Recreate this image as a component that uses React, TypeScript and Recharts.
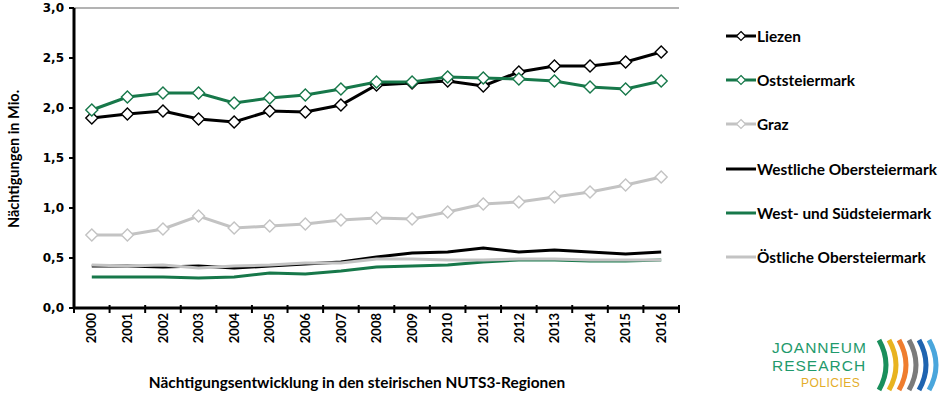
import { LineChart, Line, XAxis, YAxis, ReferenceLine, Legend } from "recharts";

const years = ["2000", "2001", "2002", "2003", "2004", "2005", "2006", "2007", "2008", "2009", "2010", "2011", "2012", "2013", "2014", "2015", "2016"];

const liezen = [1.9, 1.94, 1.97, 1.89, 1.86, 1.97, 1.96, 2.03, 2.23, 2.25, 2.27, 2.22, 2.36, 2.42, 2.42, 2.46, 2.56];
const oststeiermark = [1.98, 2.11, 2.15, 2.15, 2.05, 2.1, 2.13, 2.19, 2.26, 2.26, 2.31, 2.3, 2.29, 2.27, 2.21, 2.19, 2.27];
const graz = [0.73, 0.73, 0.79, 0.92, 0.8, 0.82, 0.84, 0.88, 0.9, 0.89, 0.96, 1.04, 1.06, 1.11, 1.16, 1.23, 1.31];
const westlicheOber = [0.42, 0.42, 0.41, 0.42, 0.4, 0.42, 0.44, 0.46, 0.51, 0.55, 0.56, 0.6, 0.56, 0.58, 0.56, 0.54, 0.56];
const westSued = [0.31, 0.31, 0.31, 0.3, 0.31, 0.35, 0.34, 0.37, 0.41, 0.42, 0.43, 0.46, 0.48, 0.48, 0.47, 0.47, 0.48];
const oestlicheOber = [0.43, 0.42, 0.43, 0.4, 0.42, 0.43, 0.45, 0.45, 0.49, 0.49, 0.48, 0.48, 0.49, 0.49, 0.48, 0.48, 0.48];

const yTicks = [0, 0.5, 1, 1.5, 2, 2.5, 3];

const BLACK = "#000000";
const GREEN = "#17784a";
const GRAY = "#c3c3c3";

const series = [
  { key: "liezen", name: "Liezen", values: liezen, color: BLACK, marker: true },
  { key: "ost", name: "Oststeiermark", values: oststeiermark, color: GREEN, marker: true },
  { key: "graz", name: "Graz", values: graz, color: GRAY, marker: true },
  { key: "west", name: "Westliche Obersteiermark", values: westlicheOber, color: BLACK, marker: false },
  { key: "wsued", name: "West- und Südsteiermark", values: westSued, color: GREEN, marker: false },
  { key: "oest", name: "Östliche Obersteiermark", values: oestlicheOber, color: GRAY, marker: false },
];

const data = years.map((y, i) => {
  const row: Record<string, string | number> = { year: y };
  series.forEach((s) => (row[s.key] = s.values[i]));
  return row;
});

const LABEL_FONT = "Lato, 'Noto Sans', sans-serif";
const HALF_BAND = 17.8;

function Diamond(props: any) {
  const { cx, cy, stroke } = props;
  if (cx == null || cy == null) return null;
  const r = 6;
  return (
    <path
      d={`M${cx},${cy - r} L${cx + r},${cy} L${cx},${cy + r} L${cx - r},${cy} Z`}
      fill="#fff"
      stroke={stroke}
      strokeWidth={1.4}
    />
  );
}

function YearTick(props: any) {
  const { x, y, payload, index } = props;
  return (
    <g>
      <line x1={x - HALF_BAND} x2={x - HALF_BAND} y1={y - 3} y2={y + 5} stroke="#000" strokeWidth={2} />
      {index === years.length - 1 && (
        <line x1={x + HALF_BAND} x2={x + HALF_BAND} y1={y - 3} y2={y + 5} stroke="#000" strokeWidth={2} />
      )}
      <text
        transform={`translate(${x},${y}) rotate(-90)`}
        x={-5}
        dy="0.36em"
        textAnchor="end"
        fontFamily={LABEL_FONT}
        fontWeight={700}
        fontSize={13}
        fill="#000"
      >
        {payload.value}
      </text>
    </g>
  );
}

function LegendContent() {
  return (
    <div style={{ fontFamily: LABEL_FONT, fontWeight: 700, fontSize: 15.4, color: "#000" }}>
      {series.map((s) => (
        <div key={s.key} style={{ display: "flex", alignItems: "center", height: 44.2 }}>
          <svg width={32} height={12}>
            <line x1={1} x2={31} y1={6} y2={6} stroke={s.color} strokeWidth={3} />
            {s.marker && <path d="M16,1.5 L20.5,6 L16,10.5 L11.5,6 Z" fill="#fff" stroke={s.color} strokeWidth={1.2} />}
          </svg>
          <span>{s.name}</span>
        </div>
      ))}
    </div>
  );
}

function Logo() {
  const colors = ["#1a8f5c", "#e8b321", "#ef7d2e", "#7b7b7b", "#1f64b0", "#4aa6dc"];
  const font = "'Liberation Sans', Arial, sans-serif";
  return (
    <div style={{ position: "absolute", left: 772, top: 339 }}>
      <div style={{ fontFamily: font, color: "#1f9a6c", fontSize: 15.5, lineHeight: "18px", letterSpacing: 1 }}>
        <div>JOANNEUM</div>
        <div>RESEARCH</div>
      </div>
      <div style={{ fontFamily: font, color: "#e3ad2a", fontSize: 12, lineHeight: "14px", marginLeft: 29, marginTop: 1, letterSpacing: 0.5 }}>
        POLICIES
      </div>
      <svg width={66} height={58} style={{ position: "absolute", left: 103, top: -3 }}>
        {colors.map((c, i) => (
          <path
            key={c}
            d={`M${4 + i * 10},4 Q${18 + i * 10},29 ${4 + i * 10},54`}
            fill="none"
            stroke={c}
            strokeWidth={5}
          />
        ))}
      </svg>
    </div>
  );
}

export default function App() {
  return (
    <div style={{ position: "absolute", left: 0, top: 0, width: 945, height: 399, background: "#fff" }}>
      <LineChart width={945} height={399} data={data} margin={{ top: 8, right: 46, bottom: 61, left: 0 }}>
        <XAxis
          dataKey="year"
          height={30}
          padding={{ left: HALF_BAND, right: HALF_BAND }}
          tick={<YearTick />}
          tickLine={false}
          tickSize={0}
          tickMargin={0}
          interval={0}
          stroke="#000"
          strokeWidth={3}
          label={{
            content: () => (
              <text x={357} y={388} textAnchor="middle" fontFamily={LABEL_FONT} fontWeight={700} fontSize={15.4} fill="#000">
                Nächtigungsentwicklung in den steirischen NUTS3-Regionen
              </text>
            ),
          }}
        />
        <YAxis
          width={74}
          domain={[0, 3]}
          ticks={yTicks}
          tickFormatter={(v: number) => v.toFixed(1).replace(".", ",")}
          tick={{ fill: "#000", fontFamily: "'DejaVu Sans', Verdana, sans-serif", fontWeight: 700, fontSize: 12 }}
          tickSize={5}
          tickMargin={5}
          stroke="#000"
          strokeWidth={3}
          tickLine={{ stroke: "#000", strokeWidth: 2 }}
          label={{
            content: () => (
              <text
                transform="translate(14,159) rotate(-90)"
                textAnchor="middle"
                dy="0.35em"
                fontFamily={LABEL_FONT}
                fontWeight={700}
                fontSize={14.5}
                fill="#000"
              >
                Nächtigungen in Mio.
              </text>
            ),
          }}
        />
        <YAxis yAxisId="right" orientation="right" width={0} domain={[0, 3]} tick={false} tickLine={false} stroke="#9a9a9a" strokeWidth={1.5} />
        <ReferenceLine y={3} stroke="#9a9a9a" strokeWidth={1.5} />
        <Legend
          layout="vertical"
          align="right"
          verticalAlign="top"
          content={() => <LegendContent />}
          wrapperStyle={{ left: 725, top: 14, width: 220 }}
        />
        {series.map((s) => (
          <Line
            key={s.key}
            type="linear"
            dataKey={s.key}
            name={s.name}
            stroke={s.color}
            strokeWidth={3}
            dot={s.marker ? <Diamond stroke={s.color} /> : false}
            activeDot={false}
            isAnimationActive={false}
          />
        ))}
      </LineChart>
      <Logo />
    </div>
  );
}
